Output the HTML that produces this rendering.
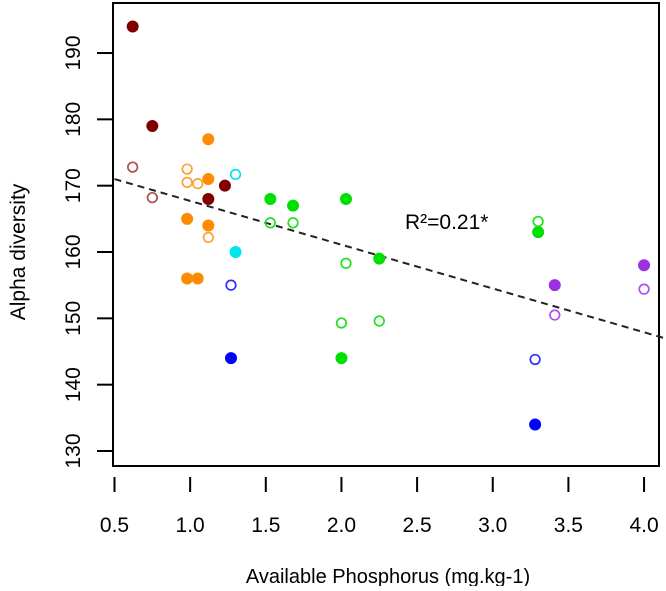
<!DOCTYPE html>
<html><head><meta charset="utf-8"><style>
body{margin:0;background:#fff;}
svg text{font-family:"Liberation Sans",Arial,sans-serif;fill:#000;}
</style></head><body>
<svg id="chart" width="666" height="586" viewBox="0 0 666 586" xmlns="http://www.w3.org/2000/svg">
<rect x="113" y="3" width="546" height="463" fill="none" stroke="#000" stroke-width="2"/>
<g id="axes"></g>
<g id="marks"></g>
<text x="405" y="229" font-size="21">R²=0.21*</text>
<text x="388" y="583" font-size="20" text-anchor="middle">Available Phosphorus (mg.kg-1)</text>
<text transform="translate(25,252) rotate(-90)" font-size="21" text-anchor="middle">Alpha diversity</text>
</svg>
<script>
const xTicks=[0.5,1.0,1.5,2.0,2.5,3.0,3.5,4.0];
const xTickLabels=["0.5","1.0","1.5","2.0","2.5","3.0","3.5","4.0"];
const yTicks=[130,140,150,160,170,180,190];
const groups=["darkred-filled","darkred-open","orange-filled","orange-open","cyan-filled","cyan-open","blue-filled","blue-open","green-filled","green-open","purple-filled","purple-open"];
const groupColors=["#800000","#b05050","#ff8c00","#ffa030","#00e5ee","#00e5ee","#0000ff","#3030ff","#00e000","#20e020","#9b30e0","#b050f0"];
const groupFilled=[true,false,true,false,true,false,true,false,true,false,true,false];
const xVals=[[0.62,0.75,1.12,1.23],[0.62,0.75],[1.12,1.12,0.98,1.12,0.98,1.05],[0.98,0.98,1.05,1.12],[1.30],[1.30],[1.27,3.28],[1.27,3.28],[1.53,1.68,2.03,2.00,2.25,3.30],[1.53,1.68,2.03,2.00,2.25,3.30],[3.41,4.00],[3.41,4.00]];
const yVals=[[194,179,168,170],[172.8,168.2],[177,171,165,164,156,156],[172.5,170.5,170.3,162.2],[160],[171.7],[144,134],[155,143.8],[168,167,168,144,159,163],[164.4,164.4,158.3,149.3,149.6,164.6],[155,158],[150.5,154.4]];
const fitIntercept=174.3, fitSlope=-6.6;
const NS="http://www.w3.org/2000/svg";
function xs(v){return 114.5+(v-0.5)*151.3;}
function ys(v){return 451-(v-130)*6.633;}
const axes=document.getElementById('axes'), marks=document.getElementById('marks');
function mk(t,a,p){const e=document.createElementNS(NS,t);for(const k in a)e.setAttribute(k,a[k]);p.appendChild(e);return e;}
xTicks.forEach((t,i)=>{
 const l=mk('line',{x1:xs(t),x2:xs(t),y1:477,y2:492,stroke:'#000','stroke-width':2},axes);
 
 
 const tx=mk('text',{x:xs(t),y:532,'font-size':21,'text-anchor':'middle'},axes);tx.textContent=xTickLabels[i];
 
 
});
yTicks.forEach(t=>{
 const l=mk('line',{x1:97,x2:113,y1:ys(t),y2:ys(t),stroke:'#000','stroke-width':2},axes);
 
 
 const tx=mk('text',{transform:`translate(80,${ys(t)}) rotate(-90)`,'font-size':21,'text-anchor':'middle'},axes);tx.textContent=String(t);
 
 
});
const fx0=0.5,fx1=4.14;
const fl=mk('line',{x1:xs(fx0),y1:ys(fitIntercept+fitSlope*fx0),x2:xs(fx1),y2:ys(fitIntercept+fitSlope*fx1),stroke:'#222','stroke-width':2,'stroke-dasharray':'7,5'},marks);


groups.forEach((g,gi)=>{
 xVals[gi].forEach((x,i)=>{
  const c=mk('circle',{cx:xs(x),cy:ys(yVals[gi][i]),r:groupFilled[gi]?5.5:4.8,fill:groupFilled[gi]?groupColors[gi]:'none',stroke:groupColors[gi],'stroke-width':groupFilled[gi]?1:1.7},marks);
  
  
 });
});
</script>
</body></html>
